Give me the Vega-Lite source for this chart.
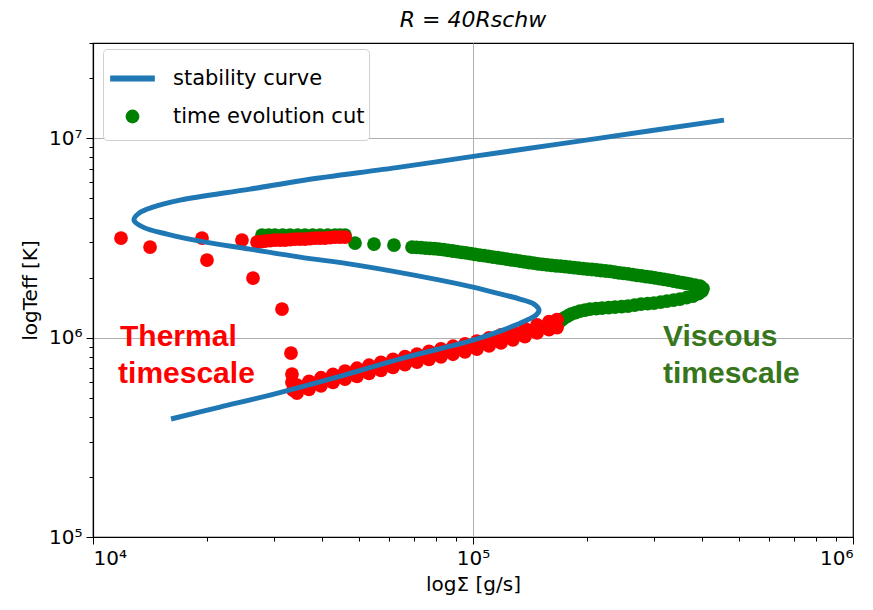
{
  "$schema": "https://vega.github.io/schema/vega-lite/v6.json",
  "autosize": {"type": "none"},
  "padding": {"left": 93, "top": 43, "right": 20, "bottom": 73},
  "width": 760,
  "height": 494,
  "background": "white",
  "title": {"text": "R = 40Rschw", "font": "DejaVu Sans", "fontSize": 22, "fontStyle": "italic", "fontWeight": "normal", "color": "black", "offset": 11, "anchor": "middle"},
  "config": {
    "view": {"stroke": "black", "strokeWidth": 1.2},
    "axis": {"labelFont": "DejaVu Sans", "labelFontSize": 20, "labelColor": "black", "tickColor": "black", "domainColor": "black", "domainWidth": 1.2, "titleFont": "DejaVu Sans", "titleFontSize": 20, "titleFontWeight": "normal", "titleColor": "black", "gridColor": "#b0b0b0", "gridWidth": 1},
    "legend": {"orient": "none", "legendX": 10, "legendY": 6, "padding": 4, "fillColor": "white", "strokeColor": "#d0d0d0", "cornerRadius": 4,
      "labelFont": "DejaVu Sans", "labelFontSize": 21, "labelColor": "black", "labelOffset": 15, "labelLimit": 400, "rowPadding": 6, "symbolStrokeWidth": 6, "symbolOpacity": 1}
  },
  "datasets": {
    "blue": [
      {"i": 1, "x": 16045, "y": 390400}, {"i": 2, "x": 21580, "y": 448300}, {"i": 3, "x": 29230, "y": 515000},
      {"i": 4, "x": 43860, "y": 633900}, {"i": 5, "x": 65440, "y": 789200}, {"i": 6, "x": 100000, "y": 971600},
      {"i": 7, "x": 119900, "y": 1090400}, {"i": 8, "x": 137000, "y": 1209800}, {"i": 9, "x": 146500, "y": 1296500},
      {"i": 10, "x": 149200, "y": 1373000}, {"i": 11, "x": 144700, "y": 1472000}, {"i": 12, "x": 132900, "y": 1560000},
      {"i": 13, "x": 121400, "y": 1633000}, {"i": 14, "x": 100000, "y": 1791000}, {"i": 15, "x": 81870, "y": 1942000},
      {"i": 16, "x": 49510, "y": 2309000}, {"i": 17, "x": 35050, "y": 2532000}, {"i": 18, "x": 25890, "y": 2777000},
      {"i": 19, "x": 19120, "y": 3045000}, {"i": 20, "x": 15660, "y": 3302000}, {"i": 21, "x": 13540, "y": 3580000},
      {"i": 22, "x": 12820, "y": 3882000}, {"i": 23, "x": 13220, "y": 4208000}, {"i": 24, "x": 14380, "y": 4509000},
      {"i": 25, "x": 16940, "y": 4889000}, {"i": 26, "x": 25890, "y": 5551000}, {"i": 27, "x": 35920, "y": 6157000},
      {"i": 28, "x": 64260, "y": 7155000}, {"i": 29, "x": 101200, "y": 8124000}, {"i": 30, "x": 215800, "y": 10000000},
      {"i": 31, "x": 457600, "y": 12310000}
    ],
    "green": [
      {"x": 27840, "y": 3265000}, {"x": 28980, "y": 3265000}, {"x": 30120, "y": 3265000}, {"x": 31555, "y": 3265000},
      {"x": 32990, "y": 3265000}, {"x": 34560, "y": 3265000}, {"x": 36130, "y": 3265000}, {"x": 37850, "y": 3265000},
      {"x": 39570, "y": 3265000}, {"x": 41455, "y": 3265000}, {"x": 43340, "y": 3265000}, {"x": 44695, "y": 3265000},
      {"x": 46050, "y": 3265000},
      {"x": 48920, "y": 2977000}, {"x": 54890, "y": 2942000}, {"x": 61950, "y": 2909000},
      {"x": 69100, "y": 2842000}, {"x": 71035, "y": 2832000}, {"x": 72970, "y": 2822000}, {"x": 75015, "y": 2810500},
      {"x": 77060, "y": 2799000}, {"x": 79215, "y": 2789500}, {"x": 81370, "y": 2780000}, {"x": 83650, "y": 2759500},
      {"x": 85930, "y": 2739000}, {"x": 88345, "y": 2717000}, {"x": 90760, "y": 2695000}, {"x": 93305, "y": 2675500},
      {"x": 95850, "y": 2656000}, {"x": 98525, "y": 2634000}, {"x": 101200, "y": 2612000}, {"x": 104050, "y": 2593000},
      {"x": 106900, "y": 2574000}, {"x": 109900, "y": 2553000}, {"x": 112900, "y": 2532000}, {"x": 116050, "y": 2513500},
      {"x": 119200, "y": 2495000}, {"x": 122550, "y": 2475000}, {"x": 125900, "y": 2455000}, {"x": 129400, "y": 2436500},
      {"x": 132900, "y": 2418000}, {"x": 136650, "y": 2398500}, {"x": 140400, "y": 2379000}, {"x": 144350, "y": 2361500},
      {"x": 148300, "y": 2344000}, {"x": 152450, "y": 2330500}, {"x": 156600, "y": 2317000}, {"x": 161000, "y": 2304000},
      {"x": 165400, "y": 2291000}, {"x": 170050, "y": 2279000}, {"x": 174700, "y": 2267000}, {"x": 179600, "y": 2254000},
      {"x": 184500, "y": 2241000}, {"x": 189650, "y": 2229500}, {"x": 194800, "y": 2218000}, {"x": 200250, "y": 2206500},
      {"x": 205700, "y": 2195000}, {"x": 211450, "y": 2182000}, {"x": 217200, "y": 2169000}, {"x": 223300, "y": 2157000},
      {"x": 229400, "y": 2145000}, {"x": 235850, "y": 2129000}, {"x": 242300, "y": 2113000}, {"x": 249050, "y": 2098500},
      {"x": 255800, "y": 2084000}, {"x": 263000, "y": 2068500}, {"x": 270200, "y": 2053000}, {"x": 277750, "y": 2037500},
      {"x": 285300, "y": 2022000}, {"x": 293250, "y": 2008000}, {"x": 301200, "y": 1994000}, {"x": 309650, "y": 1975500},
      {"x": 318100, "y": 1957000}, {"x": 327000, "y": 1939500}, {"x": 335900, "y": 1922000}, {"x": 345350, "y": 1904500},
      {"x": 354800, "y": 1887000}, {"x": 363600, "y": 1870500}, {"x": 372400, "y": 1854000}, {"x": 384050, "y": 1833000},
      {"x": 395700, "y": 1812000}, {"x": 403000, "y": 1760000}, {"x": 400500, "y": 1711000}, {"x": 392000, "y": 1660000},
      {"x": 379300, "y": 1614000}, {"x": 364900, "y": 1587000}, {"x": 350500, "y": 1560000}, {"x": 337200, "y": 1542000},
      {"x": 323900, "y": 1524000}, {"x": 311700, "y": 1506500}, {"x": 299500, "y": 1489000}, {"x": 288150, "y": 1480500},
      {"x": 276800, "y": 1472000}, {"x": 266300, "y": 1455000}, {"x": 255800, "y": 1438000}, {"x": 246100, "y": 1430000},
      {"x": 236400, "y": 1422000}, {"x": 227500, "y": 1414000}, {"x": 218600, "y": 1406000}, {"x": 210900, "y": 1398000},
      {"x": 203200, "y": 1390000}, {"x": 197200, "y": 1374000}, {"x": 191200, "y": 1358000}, {"x": 186150, "y": 1335000},
      {"x": 181100, "y": 1312000}, {"x": 177350, "y": 1282000}, {"x": 173600, "y": 1252000}, {"x": 171000, "y": 1224000},
      {"x": 168400, "y": 1196000}
    ],
    "red": [
      {"x": 11850, "y": 3153000}, {"x": 14130, "y": 2842000}, {"x": 19360, "y": 3153000}, {"x": 19950, "y": 2446000},
      {"x": 24660, "y": 3081000}, {"x": 26370, "y": 1987000}, {"x": 31430, "y": 1390000}, {"x": 33190, "y": 836000},
      {"x": 33390, "y": 656100}, {"x": 33390, "y": 598300}, {"x": 33590, "y": 545500},
      {"x": 27020, "y": 3011000}, {"x": 27690, "y": 3028500}, {"x": 28360, "y": 3046000}, {"x": 29240, "y": 3063500},
      {"x": 30120, "y": 3081000}, {"x": 31065, "y": 3081000}, {"x": 32010, "y": 3081000}, {"x": 33010, "y": 3099000},
      {"x": 34010, "y": 3117000}, {"x": 35070, "y": 3117000}, {"x": 36130, "y": 3117000}, {"x": 37260, "y": 3135000},
      {"x": 38390, "y": 3153000}, {"x": 39585, "y": 3153000}, {"x": 40780, "y": 3153000}, {"x": 42060, "y": 3171500},
      {"x": 43340, "y": 3190000}, {"x": 44695, "y": 3190000}, {"x": 46050, "y": 3190000},
      {"x": 34420, "y": 577900}, {"x": 34420, "y": 527000}, {"x": 35720, "y": 564600},
      {"x": 37020, "y": 603300}, {"x": 37020, "y": 550100}, {"x": 38415, "y": 588900},
      {"x": 39810, "y": 628800}, {"x": 39810, "y": 573300}, {"x": 41310, "y": 613400},
      {"x": 42810, "y": 654600}, {"x": 42810, "y": 596900}, {"x": 44430, "y": 637150},
      {"x": 46050, "y": 678400}, {"x": 46050, "y": 618700}, {"x": 47780, "y": 659625},
      {"x": 49510, "y": 701700}, {"x": 49510, "y": 639700}, {"x": 51380, "y": 682525},
      {"x": 53250, "y": 726400}, {"x": 53250, "y": 662300}, {"x": 55255, "y": 706100},
      {"x": 57260, "y": 751000}, {"x": 57260, "y": 684700}, {"x": 59420, "y": 730100},
      {"x": 61580, "y": 776600}, {"x": 61580, "y": 708100}, {"x": 63905, "y": 754625},
      {"x": 66230, "y": 802400}, {"x": 66230, "y": 731400}, {"x": 68725, "y": 778575},
      {"x": 71220, "y": 826800}, {"x": 71220, "y": 753700}, {"x": 73915, "y": 802250},
      {"x": 76610, "y": 851900}, {"x": 76610, "y": 776600}, {"x": 79485, "y": 826725},
      {"x": 82360, "y": 877900}, {"x": 82360, "y": 800500}, {"x": 85475, "y": 851975},
      {"x": 88590, "y": 904600}, {"x": 88590, "y": 824900}, {"x": 91925, "y": 877350},
      {"x": 95260, "y": 931000}, {"x": 95260, "y": 848900}, {"x": 98830, "y": 904075},
      {"x": 102400, "y": 960500}, {"x": 102400, "y": 875900}, {"x": 106300, "y": 934875},
      {"x": 110200, "y": 995400}, {"x": 110200, "y": 907700}, {"x": 114350, "y": 968800},
      {"x": 118500, "y": 1031500}, {"x": 118500, "y": 940600}, {"x": 122950, "y": 1003500},
      {"x": 127400, "y": 1068000}, {"x": 127400, "y": 973900}, {"x": 132200, "y": 1040750},
      {"x": 137000, "y": 1109500}, {"x": 137000, "y": 1011600}, {"x": 142200, "y": 1083175},
      {"x": 147400, "y": 1157000}, {"x": 147400, "y": 1054600}, {"x": 152950, "y": 1127225},
      {"x": 158500, "y": 1201800}, {"x": 158500, "y": 1095500}, {"x": 162450, "y": 1162575},
      {"x": 166400, "y": 1231000}, {"x": 166400, "y": 1122000}
    ],
    "notesRed": [
      {"t": "Thermal", "x": 11780, "y": 906600},
      {"t": "timescale", "x": 11640, "y": 591500}
    ],
    "notesGreen": [
      {"t": "Viscous", "x": 316200, "y": 906600},
      {"t": "timescale", "x": 316200, "y": 591500}
    ]
  },
  "layer": [
    {
      "data": {"name": "green"},
      "mark": {"type": "point", "filled": true, "opacity": 1, "shape": "circle"},
      "encoding": {
        "x": {"field": "x", "type": "quantitative", "scale": {"type": "log", "domain": [10000, 1000000], "nice": false},
          "axis": {"title": "logΣ [g/s]", "titlePadding": 6,
            "values": [10000, 20000, 30000, 40000, 50000, 60000, 70000, 80000, 90000, 100000, 200000, 300000, 400000, 500000, 600000, 700000, 800000, 900000, 1000000],
            "labelExpr": "datum.value === 10000 ? '10⁴' : datum.value === 100000 ? '10⁵' : datum.value === 1000000 ? '10⁶' : ''",
            "labelPadding": 4,
            "tickSize": {"condition": {"test": "datum.value === 10000 || datum.value === 100000 || datum.value === 1000000", "value": 7}, "value": 4},
            "grid": true,
            "gridOpacity": {"condition": {"test": "datum.value === 100000", "value": 1}, "value": 0}
          }},
        "y": {"field": "y", "type": "quantitative", "scale": {"type": "log", "domain": [100000, 30000000], "nice": false},
          "axis": {"title": "logTeff [K]", "titlePadding": 8,
            "values": [100000, 200000, 300000, 400000, 500000, 600000, 700000, 800000, 900000, 1000000, 2000000, 3000000, 4000000, 5000000, 6000000, 7000000, 8000000, 9000000, 10000000, 20000000, 30000000],
            "labelExpr": "datum.value === 100000 ? '10⁵' : datum.value === 1000000 ? '10⁶' : datum.value === 10000000 ? '10⁷' : ''",
            "labelPadding": 4,
            "tickSize": {"condition": {"test": "datum.value === 100000 || datum.value === 1000000 || datum.value === 10000000", "value": 7}, "value": 4},
            "grid": true,
            "gridOpacity": {"condition": {"test": "datum.value === 1000000 || datum.value === 10000000", "value": 1}, "value": 0}
          }},
        "color": {"datum": "time evolution cut", "type": "nominal", "title": null,
          "scale": {"domain": ["stability curve", "time evolution cut"], "range": ["#1f77b4", "#008000"]},
          "legend": {"title": null}},
        "stroke": {"datum": "time evolution cut", "type": "nominal", "title": null,
          "scale": {"domain": ["stability curve", "time evolution cut"], "range": ["#1f77b4", "transparent"]},
          "legend": {"title": null}},
        "shape": {"datum": "time evolution cut", "type": "nominal", "title": null,
          "scale": {"domain": ["stability curve", "time evolution cut"], "range": ["stroke", "circle"]},
          "legend": {"title": null}},
        "size": {"datum": "time evolution cut", "type": "nominal", "title": null,
          "scale": {"domain": ["stability curve", "time evolution cut"], "range": [2000, 190]},
          "legend": {"title": null}}
      }
    },
    {
      "data": {"name": "red"},
      "mark": {"type": "point", "filled": true, "opacity": 1, "size": 190, "shape": "circle", "color": "#ff0000"},
      "encoding": {
        "x": {"field": "x", "type": "quantitative"},
        "y": {"field": "y", "type": "quantitative"}
      }
    },
    {
      "data": {"name": "blue"},
      "mark": {"type": "line", "strokeWidth": 5, "interpolate": "catmull-rom", "color": "#1f77b4"},
      "encoding": {
        "x": {"field": "x", "type": "quantitative"},
        "y": {"field": "y", "type": "quantitative"},
        "order": {"field": "i", "type": "quantitative"}
      }
    },
    {
      "data": {"name": "notesRed"},
      "mark": {"type": "text", "align": "left", "baseline": "alphabetic", "font": "Liberation Sans", "fontWeight": "bold", "fontSize": 30, "color": "#ff0000"},
      "encoding": {
        "x": {"field": "x", "type": "quantitative"},
        "y": {"field": "y", "type": "quantitative"},
        "text": {"field": "t"}
      }
    },
    {
      "data": {"name": "notesGreen"},
      "mark": {"type": "text", "align": "left", "baseline": "alphabetic", "font": "Liberation Sans", "fontWeight": "bold", "fontSize": 30, "color": "#38761d"},
      "encoding": {
        "x": {"field": "x", "type": "quantitative"},
        "y": {"field": "y", "type": "quantitative"},
        "text": {"field": "t"}
      }
    }
  ]
}
